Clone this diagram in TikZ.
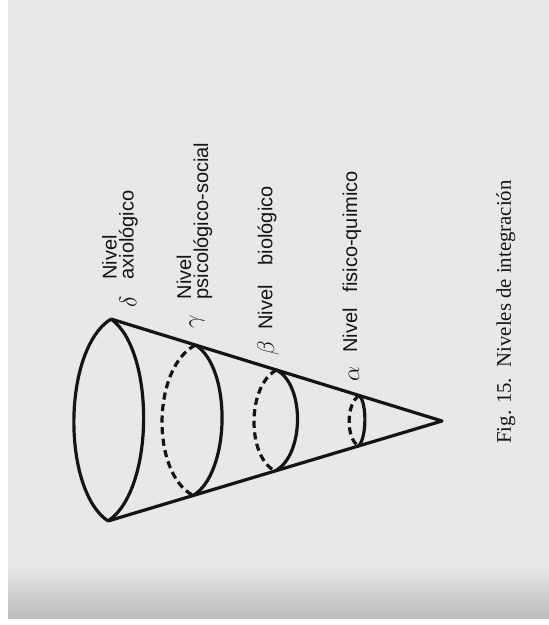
\documentclass[tikz,border=0pt]{standalone}
\usepackage{fontspec}
\setmainfont{Liberation Serif}
\setsansfont{Liberation Sans}
\usetikzlibrary{calc}

\definecolor{papel}{gray}{0.91}
\definecolor{papeloscuro}{gray}{0.74}
\definecolor{tinta}{gray}{0.08}

\tikzset{
  linea/.style={line width=1.6pt, draw=tinta},
  oculta/.style={linea, dash pattern=on 3.6pt off 2.2pt},
  etiqueta/.style={rotate=90, inner sep=0pt, text=tinta, align=left,
    font=\sffamily\fontsize{10}{8.5}\selectfont},
  letra/.style={rotate=90, inner sep=0pt, text=tinta, font=\fontsize{13}{13}\selectfont}
}

\begin{document}
\begin{tikzpicture}[x=0.5pt, y=-0.5pt]
    % Fondo de la pagina escaneada
    \useasboundingbox (0,0) rectangle (549,625);
    \fill[white] (0,0) rectangle (549,625);
    \fill[papel] (8,0) rectangle (549,565);
    \shade[top color=papel, bottom color=papeloscuro] (8,565) rectangle (549,618);

    % Vertices del cono (base a la izquierda, punta a la derecha)
    \coordinate (T) at (111,319);
    \coordinate (B) at (108,521);
    \coordinate (A) at (442,421);

    % Base
    \draw[linea] (T) .. controls (62,350) and (62,490) .. (B);
    \draw[linea] (T) .. controls (155,350) and (155,490) .. (B);

    % Generatrices
    \draw[linea, line join=round] (T) -- (A) -- (B);

    % Cortes del cono: fraccion / bulto oculto / bulto visible
    \foreach \f/\wl/\wr in {0.255/43/37, 0.5/29/29, 0.75/13/8} {
        \coordinate (p) at ($(T)!\f!(A)$);
        \coordinate (q) at ($(B)!\f!(A)$);
        \draw[oculta] (p) .. controls ($(p)!0.15!(q)+(-\wl,0)$) and ($(p)!0.85!(q)+(-\wl,0)$) .. (q);
        \draw[linea] (p) .. controls ($(p)!0.15!(q)+(\wr,0)$) and ($(p)!0.85!(q)+(\wr,0)$) .. (q);
    }

    % Letras griegas de cada nivel
    \node[letra] (delta) at (128,302) {$\delta$};
    \node[letra] (gamma) at (197,322) {$\gamma$};
    \node[letra] (beta) at (268,348) {$\beta$};
    \node[letra] (alfa) at (354,374) {$\alpha$};

    % Nombres de los niveles
    \node[etiqueta] (axiologico) at (120,235) {Nivel\\axiológico};
    \node[etiqueta] (psicosocial) at (194.5,221) {Nivel\\psicológico-social};
    \node[etiqueta] (biologico) at (267,258) {Nivel\hspace{1em}biológico};
    \node[etiqueta] (fisicoquimico) at (352,262) {Nivel\hspace{0.8em}fisico-quimico};

    % Pie de figura
    \node[rotate=90, inner sep=0pt, text=tinta, font=\fontsize{10.4}{12}\selectfont] (pie) at (506,312) {Fig. 15.\ \ Niveles de integración};
\end{tikzpicture}
\end{document}
